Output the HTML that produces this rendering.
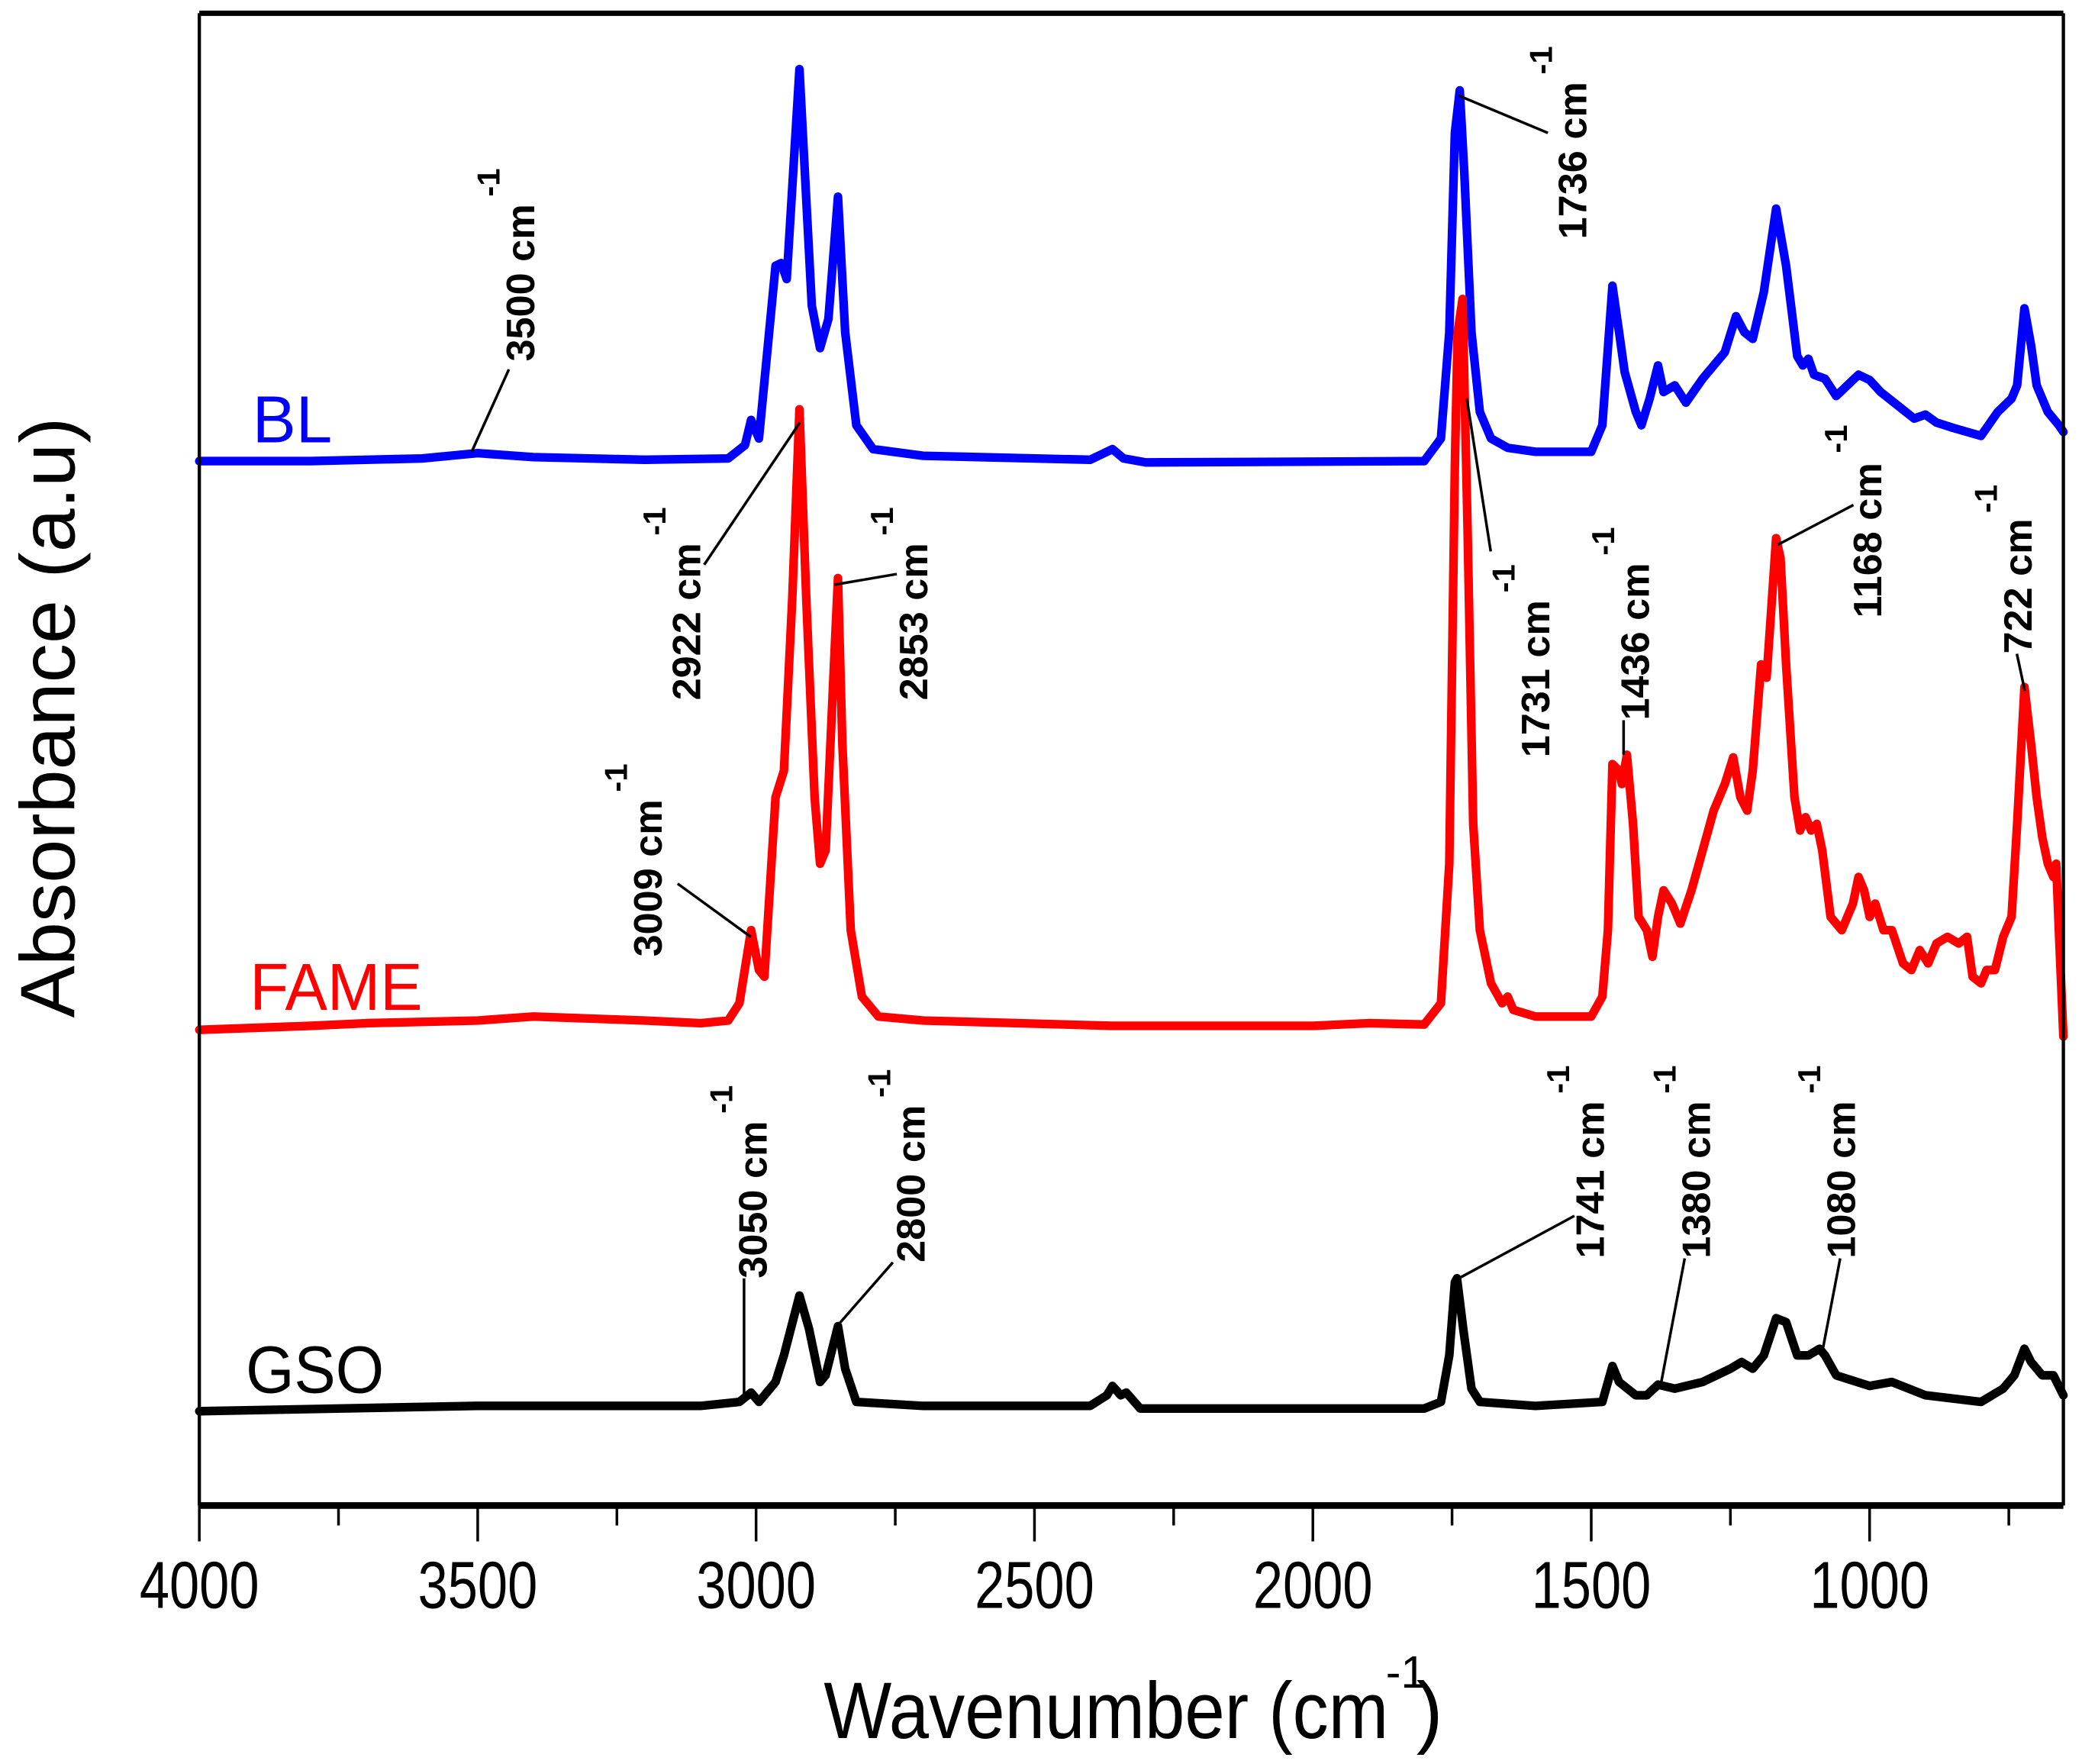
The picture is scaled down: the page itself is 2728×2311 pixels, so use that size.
<!DOCTYPE html>
<html><head><meta charset="utf-8">
<style>
html,body{margin:0;padding:0;background:#fff;}
svg{display:block;}
text{font-family:"Liberation Sans",sans-serif;}
.ann{font-weight:bold;font-size:30px;fill:#000;}
.sup{font-weight:bold;font-size:24px;fill:#000;}
</style></head>
<body>
<svg id="chart" width="2728" height="2311" viewBox="0 0 1567 1327.5" xmlns="http://www.w3.org/2000/svg">
<g id="plot"></g>
<g id="axes"></g>
<g id="anns"></g>
</svg>
<script>
const xTicks = [4000, 3500, 3000, 2500, 2000, 1500, 1000];
const xMinorTicks = [3750, 3250, 2750, 2250, 1750, 1250, 750];
const blWn = [4000,3800,3600,3500,3400,3200,3050,3020,3009,2995,2965,2955,2945,2922,2900,2885,2870,2853,2840,2820,2790,2700,2400,2360,2340,2300,1800,1770,1755,1745,1736,1728,1715,1700,1680,1650,1600,1500,1480,1462,1450,1440,1420,1410,1395,1380,1370,1350,1330,1300,1260,1240,1225,1210,1190,1168,1150,1130,1120,1110,1100,1080,1060,1040,1020,1000,980,950,920,900,880,850,800,770,745,735,722,710,700,680,660,652];
const blAbs = [78.6,78.6,78.8,79.2,78.9,78.7,78.8,79.8,81.7,80.3,93.3,93.5,92.3,108.1,90.3,87.1,89.3,98.5,88.3,81.3,79.5,79.0,78.7,79.5,78.8,78.5,78.6,80.3,88.3,103.3,106.5,100.3,88.3,82.3,80.3,79.6,79.3,79.3,81.3,91.8,88.3,85.3,82.3,81.3,83.3,85.8,83.8,84.3,83.0,84.8,86.8,89.5,88.3,87.8,91.3,97.6,93.3,86.5,85.8,86.3,85.1,84.8,83.5,84.3,85.1,84.7,83.8,82.8,81.8,82.1,81.5,81.1,80.5,82.3,83.3,84.3,90.1,87.3,84.3,82.3,81.3,80.8];
const fameWn = [4000,3800,3700,3500,3400,3200,3100,3050,3030,3009,2995,2985,2965,2950,2935,2922,2910,2895,2885,2875,2860,2853,2845,2830,2810,2780,2700,2360,2000,1900,1800,1770,1755,1745,1740,1731,1722,1712,1700,1680,1660,1650,1640,1600,1500,1480,1470,1462,1450,1445,1436,1425,1415,1400,1390,1380,1370,1355,1340,1320,1300,1280,1260,1245,1232,1220,1210,1195,1185,1168,1160,1150,1135,1125,1115,1105,1095,1085,1070,1050,1030,1020,1010,1000,990,975,960,940,925,910,895,880,860,840,825,815,800,790,775,760,745,735,722,710,700,690,680,670,665,660,652];
const fameAbs = [35.8,36.1,36.3,36.5,36.8,36.5,36.3,36.5,37.8,43.3,40.3,39.8,53.3,55.3,68.3,82.5,68.3,53.3,48.3,49.3,63.3,69.8,57.3,43.3,38.3,36.8,36.5,36.1,36.1,36.3,36.2,37.8,48.3,78.3,88.3,90.8,73.3,51.3,43.3,39.3,37.8,38.3,37.3,36.8,36.8,38.3,43.3,55.8,55.3,54.3,56.5,51.3,44.3,43.3,41.3,44.3,46.3,45.3,43.8,46.3,49.3,52.3,54.3,56.3,53.3,52.3,55.3,63.3,62.3,72.8,71.3,63.3,53.3,50.8,51.8,50.8,51.3,49.3,44.3,43.3,45.3,47.3,46.3,44.3,45.3,43.3,43.3,40.8,40.3,41.8,40.8,42.3,42.8,42.3,42.8,39.8,39.3,40.3,40.3,42.8,44.3,51.3,61.6,57.3,53.3,50.3,48.3,47.3,48.3,43.3,35.3];
const gsoWn = [4000,3500,3100,3030,3009,2995,2965,2950,2922,2905,2885,2875,2853,2840,2820,2700,2400,2370,2360,2345,2335,2310,1800,1770,1755,1745,1741,1730,1715,1700,1600,1480,1462,1450,1420,1400,1380,1350,1300,1250,1230,1210,1190,1168,1150,1130,1110,1090,1080,1060,1000,960,900,800,760,740,722,710,690,670,652];
const gsoAbs = [7.1,7.5,7.5,7.8,8.5,7.8,9.3,11.3,15.8,13.3,9.3,9.8,13.5,10.3,7.8,7.5,7.5,8.3,9.0,8.3,8.5,7.3,7.3,7.8,11.3,16.8,17.1,13.3,8.8,7.8,7.5,7.8,10.5,9.3,8.3,8.3,9.1,8.8,9.3,10.3,10.8,10.3,11.3,14.1,13.8,11.3,11.3,11.8,11.3,9.8,9.0,9.3,8.3,7.8,8.8,9.8,11.8,10.8,9.8,9.8,8.3];
const seriesNames = ["BL","FAME","GSO"];

const NS = "http://www.w3.org/2000/svg";
const L = 150, R = 1553, T = 10, B = 1133;
const X0 = 4000, X1 = 652;
function xs(w){ return L + (X0 - w) * (R - L) / (X0 - X1); }
function ys(a){ return B - a * 10; }
function mk(tag, attrs, parent){
  const e = document.createElementNS(NS, tag);
  for (const k in attrs) e.setAttribute(k, attrs[k]);
  parent.appendChild(e); return e;
}
const plot = document.getElementById('plot');
const axes = document.getElementById('axes');
const anns = document.getElementById('anns');

function drawSeries(wn, ab, color, name){
  let d = '';
  for (let i = 0; i < wn.length; i++) d += (i ? 'L' : 'M') + xs(wn[i]).toFixed(1) + ',' + ys(ab[i]).toFixed(1);
  const p = mk('path', {d: d, fill: 'none', stroke: color, 'stroke-width': 6.5, 'stroke-linejoin': 'round', 'stroke-linecap': 'round'}, plot);
  
  
}
drawSeries(blWn, blAbs, '#0000ff', 'bl-spectrum');
drawSeries(fameWn, fameAbs, '#ff0000', 'fame-spectrum');
drawSeries(gsoWn, gsoAbs, '#000000', 'gso-spectrum');

let fr;
fr = mk('line', {x1: L, y1: T, x2: R, y2: T, stroke: '#000', 'stroke-width': 4}, axes);
 
fr = mk('line', {x1: L, y1: B, x2: R, y2: B, stroke: '#000', 'stroke-width': 5}, axes);
 
fr = mk('line', {x1: L, y1: T, x2: L, y2: B, stroke: '#000', 'stroke-width': 2.5}, axes);
 
fr = mk('line', {x1: R, y1: T, x2: R, y2: B, stroke: '#000', 'stroke-width': 2.5}, axes);
 

xTicks.forEach(v => {
  const t = mk('line', {x1: xs(v), y1: B, x2: xs(v), y2: B + 27, stroke: '#000', 'stroke-width': 2}, axes);
  
  
  const lb = mk('text', {x: xs(v), y: 1210, 'text-anchor': 'middle', 'font-size': 50, textLength: 90, lengthAdjust: 'spacingAndGlyphs'}, axes);
  lb.textContent = String(v);
  
  
});
xMinorTicks.forEach(v => {
  const t = mk('line', {x1: xs(v), y1: B, x2: xs(v), y2: B + 15, stroke: '#000', 'stroke-width': 2}, axes);
  
  
});
const xt = mk('text', {x: 620, y: 1308, 'font-size': 60, textLength: 425, lengthAdjust: 'spacingAndGlyphs'}, axes);
xt.textContent = 'Wavenumber (cm';
 
const xs1 = mk('text', {x: 1043, y: 1270, 'font-size': 34}, axes);
xs1.textContent = '-1';
 
const xs2 = mk('text', {x: 1066, y: 1308, 'font-size': 60}, axes);
xs2.textContent = ')';
 
const yt = mk('text', {x: 0, y: 0, 'font-size': 58, 'text-anchor': 'middle', textLength: 452, lengthAdjust: 'spacingAndGlyphs', transform: 'translate(56,540) rotate(-90)'}, axes);
yt.textContent = 'Absorbance (a.u)';
 

const labelSpecs = [[190, 333, '#0000ff', 'BL', 60], [188, 760, '#ff0000', 'FAME', 130], [185, 1048, '#000000', 'GSO', 104]];
labelSpecs.forEach((s, i) => {
  const t = mk('text', {x: s[0], y: s[1], fill: s[2], 'font-size': 50, textLength: s[4], lengthAdjust: 'spacingAndGlyphs'}, plot);
  t.textContent = seriesNames[i];
  
  
});

const annText = ['3500 cm','1736 cm','2922 cm','2853 cm','3009 cm','1731 cm','1436 cm','1168 cm','722 cm','3050 cm','2800 cm','1741 cm','1380 cm','1080 cm'];
const annPos = [[402,272,355,340,383,278],[1194,180,1098,72,1165,100],[527,527,602,318,530,425],[698,527,628,440,675,432],[498,720,565,705,510,665],[1166,570,1104,300,1122,415],[1241,542,1222,568,1222,542],[1416,465,1338,410,1395,380],[1529,492,1524,520,1518,492],[577,962,560,1050,560,962],[696,950,630,998,672,950],[1207,947,1098,962,1185,915],[1287,947,1250,1042,1268,947],[1396,947,1372,1015,1385,947]];
annText.forEach((s, i) => {
  const p = annPos[i];
  const g = mk('g', {transform: 'translate(' + p[0] + ',' + p[1] + ') rotate(-90)'}, anns);
  
  
  const t = mk('text', {x: 0, y: 0, class: 'ann'}, g);
  t.textContent = s;
  const w = s.length === 6 ? 104 : 122;
  const sp = mk('text', {x: w + 2, y: -26, class: 'sup'}, g);
  sp.textContent = '-1';
  const ln = mk('line', {x1: p[2], y1: p[3], x2: p[4], y2: p[5], stroke: '#000', 'stroke-width': 2}, anns);
  
  
});
</script>
</body></html>
